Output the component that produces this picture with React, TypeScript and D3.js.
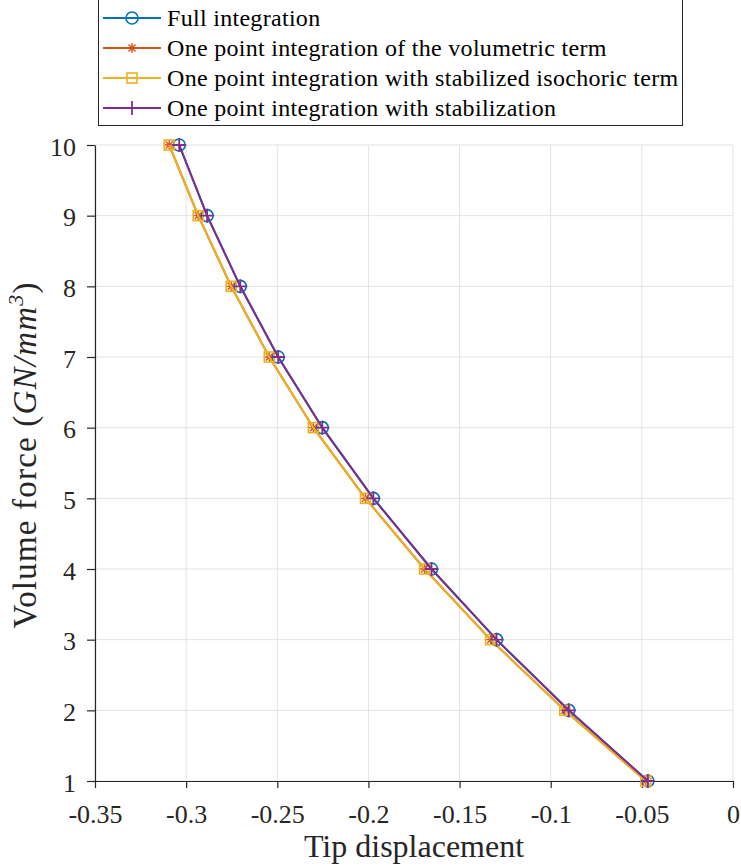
import React, { useRef, useEffect } from "react";
import * as d3 from "d3";

const forces = [1, 2, 3, 4, 5, 6, 7, 8, 9, 10];
const fullIntegration = [-0.0467, -0.0901, -0.1297, -0.1654, -0.1973, -0.2253, -0.2495, -0.2703, -0.2885, -0.3038];
const volumetricTerm = [-0.0478, -0.0923, -0.133, -0.1692, -0.2016, -0.2302, -0.2544, -0.2753, -0.2934, -0.3093];
const isochoricTerm = [-0.0478, -0.0923, -0.133, -0.1692, -0.2016, -0.2302, -0.2544, -0.2753, -0.2934, -0.3093];
const stabilization = [-0.0467, -0.0901, -0.1297, -0.1654, -0.1973, -0.2253, -0.2495, -0.2703, -0.2885, -0.3038];
const xTicks = [-0.35, -0.3, -0.25, -0.2, -0.15, -0.1, -0.05, 0];
const yTicks = [1, 2, 3, 4, 5, 6, 7, 8, 9, 10];
const seriesNames = [
  "Full integration",
  "One point integration of the volumetric term",
  "One point integration with stabilized isochoric term",
  "One point integration with stabilization",
];

type Marker = "circle" | "star" | "square" | "plus";

const series: { name: string; values: number[]; color: string; marker: Marker }[] = [
  { name: seriesNames[0], values: fullIntegration, color: "#0072BD", marker: "circle" },
  { name: seriesNames[1], values: volumetricTerm, color: "#D95319", marker: "star" },
  { name: seriesNames[2], values: isochoricTerm, color: "#EDB120", marker: "square" },
  { name: seriesNames[3], values: stabilization, color: "#7E2F8E", marker: "plus" },
];

const FONT = "Liberation Serif, DejaVu Serif, serif";

const width = 741,
  height = 867,
  marginLeft = 95,
  marginRight = 8,
  marginTop = 145,
  marginBottom = 86;

const drawMarker = (g: any, kind: Marker, x: number, y: number, color: string) => {
  if (kind === "circle") {
    g.append("circle")
      .attr("cx", x)
      .attr("cy", y)
      .attr("r", 6)
      .attr("fill", "none")
      .attr("stroke", color)
      .attr("stroke-width", 1.6);
  } else if (kind === "square") {
    g.append("rect")
      .attr("x", x - 5)
      .attr("y", y - 5)
      .attr("width", 10)
      .attr("height", 10)
      .attr("fill", "none")
      .attr("stroke", color)
      .attr("stroke-width", 1.6);
  } else if (kind === "plus") {
    g.append("path")
      .attr("d", `M${x - 7},${y}H${x + 7}M${x},${y - 7}V${y + 7}`)
      .attr("stroke", color)
      .attr("stroke-width", 1.8);
  } else {
    const r = 5;
    const d = r * 0.7071;
    g.append("path")
      .attr(
        "d",
        `M${x - r},${y}H${x + r}M${x},${y - r}V${y + r}M${x - d},${y - d}L${x + d},${y + d}M${x - d},${y + d}L${x + d},${y - d}`
      )
      .attr("stroke", color)
      .attr("stroke-width", 1.4);
  }
};

const App = () => {
  const chartRef = useRef<SVGSVGElement>(null);

  useEffect(() => {
    if (!chartRef.current) return;
    const svg = d3.select(chartRef.current);
    svg.selectAll("*").remove();

    const x = d3.scaleLinear().domain([-0.35, 0]).range([marginLeft, width - marginRight]);
    const y = d3.scaleLinear().domain([1, 10]).range([height - marginBottom, marginTop]);

    // grid
    const grid = svg.append("g").attr("stroke", "#e3e3e3").attr("stroke-width", 1);
    xTicks.forEach((t) => {
      grid.append("line").attr("x1", x(t)).attr("x2", x(t)).attr("y1", y(1)).attr("y2", y(10));
    });
    yTicks.forEach((t) => {
      grid.append("line").attr("x1", x(-0.35)).attr("x2", x(0)).attr("y1", y(t)).attr("y2", y(t));
    });

    // axes
    const xAxis = svg
      .append("g")
      .attr("transform", `translate(0,${y(1)})`)
      .call(d3.axisBottom(x).tickValues(xTicks).tickFormat((d) => `${d}`).tickSize(7).tickSizeOuter(0));
    const yAxis = svg
      .append("g")
      .attr("transform", `translate(${x(-0.35)},0)`)
      .call(d3.axisLeft(y).tickValues(yTicks).tickFormat((d) => `${d}`).tickSize(8).tickSizeOuter(0));

    [xAxis, yAxis].forEach((a) => {
      a.attr("font-family", null).attr("font-size", null);
      a.select(".domain").attr("stroke", "#262626").attr("stroke-width", 1.2);
      a.selectAll(".tick line").attr("stroke", "#262626").attr("stroke-width", 1.2);
      a.selectAll(".tick text").attr("fill", "#262626").style("font-family", FONT).style("font-size", "26px");
    });
    xAxis.selectAll(".tick text").attr("y", 42).attr("dy", 0);
    yAxis.selectAll(".tick text").attr("x", -19).attr("dy", 10);

    // series
    const line = d3
      .line<number>()
      .x((d) => x(d))
      .y((_, i) => y(forces[i]));

    series.forEach((s) => {
      const g = svg.append("g");
      g.append("path")
        .attr("d", line(s.values))
        .attr("fill", "none")
        .attr("stroke", s.color)
        .attr("stroke-width", 2);
      s.values.forEach((v, i) => drawMarker(g, s.marker, x(v), y(forces[i]), s.color));
    });

    // axis titles
    svg
      .append("text")
      .attr("x", 414)
      .attr("y", 857)
      .attr("text-anchor", "middle")
      .attr("fill", "#262626")
      .style("font-family", FONT)
      .style("font-size", "32px")
      .text("Tip displacement");

    const yl = svg
      .append("text")
      .attr("transform", `translate(36,455) rotate(-90)`)
      .attr("text-anchor", "middle")
      .attr("fill", "#262626")
      .style("font-family", FONT)
      .style("font-size", "33px")
      .style("letter-spacing", "1.2px");
    yl.append("tspan").text("Volume force (");
    yl.append("tspan").style("font-style", "italic").text("GN/mm");
    yl.append("tspan").style("font-style", "italic").style("font-size", "22px").attr("dy", -13).text("3");
    yl.append("tspan").attr("dy", 13).text(")");

    // legend
    const legend = svg.append("g");
    legend
      .append("rect")
      .attr("x", 98.5)
      .attr("y", -1)
      .attr("width", 584)
      .attr("height", 126.5)
      .attr("fill", "#fff")
      .attr("stroke", "#262626")
      .attr("stroke-width", 1);
    series.forEach((s, i) => {
      const cy = 18 + i * 30;
      legend
        .append("line")
        .attr("x1", 103)
        .attr("x2", 161)
        .attr("y1", cy)
        .attr("y2", cy)
        .attr("stroke", s.color)
        .attr("stroke-width", 2);
      drawMarker(legend, s.marker, 132, cy, s.color);
      legend
        .append("text")
        .attr("x", 167)
        .attr("y", cy)
        .attr("dy", 8)
        .attr("fill", "#000")
        .style("font-family", FONT)
        .style("font-size", "24px")
        .style("letter-spacing", "0.3px")
        .text(s.name);
    });
  }, []);

  return (
    <svg
      ref={chartRef}
      width={width}
      height={height}
      viewBox={`0 0 ${width} ${height}`}
      style={{ display: "block", position: "absolute", left: 0, top: 0, background: "#fff" }}
    ></svg>
  );
};

export default App;
